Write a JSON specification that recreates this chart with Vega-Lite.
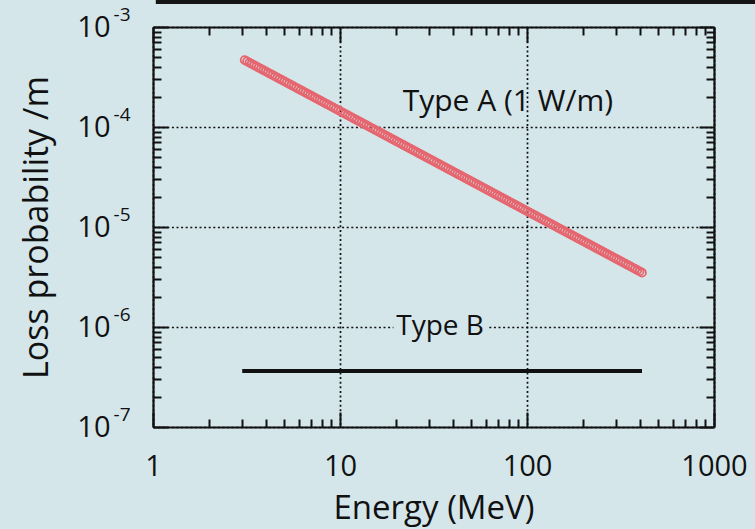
{
  "$schema": "https://vega.github.io/schema/vega-lite/v6.json",
  "autosize": {"type": "none"},
  "width": 561,
  "height": 400,
  "padding": {"left": 153, "top": 27, "right": 41, "bottom": 102},
  "background": "#d4e6ea",
  "config": {
    "view": {"stroke": null},
    "font": "Open Sans",
    "axis": {
      "labelFont": "Open Sans",
      "titleFont": "Open Sans",
      "labelColor": "#111111",
      "titleColor": "#111111",
      "titleFontWeight": "normal",
      "tickColor": "#111111",
      "domainColor": "#111111",
      "labelOverlap": false,
      "labelFlush": false,
      "labelBound": false
    }
  },
  "datasets": {
    "typeA": [
      {"energy": 3.0903, "loss": 4.660e-4}, {"energy": 3.1805, "loss": 4.528e-4},
      {"energy": 3.2734, "loss": 4.399e-4}, {"energy": 3.3690, "loss": 4.274e-4},
      {"energy": 3.4674, "loss": 4.153e-4}, {"energy": 3.5686, "loss": 4.035e-4},
      {"energy": 3.6728, "loss": 3.921e-4}, {"energy": 3.7800, "loss": 3.810e-4},
      {"energy": 3.8905, "loss": 3.701e-4}, {"energy": 4.0041, "loss": 3.596e-4},
      {"energy": 4.1210, "loss": 3.494e-4}, {"energy": 4.2413, "loss": 3.395e-4},
      {"energy": 4.3652, "loss": 3.299e-4}, {"energy": 4.4927, "loss": 3.205e-4},
      {"energy": 4.6238, "loss": 3.114e-4}, {"energy": 4.7588, "loss": 3.026e-4},
      {"energy": 4.8978, "loss": 2.940e-4}, {"energy": 5.0408, "loss": 2.857e-4},
      {"energy": 5.1880, "loss": 2.776e-4}, {"energy": 5.3395, "loss": 2.697e-4},
      {"energy": 5.4954, "loss": 2.620e-4}, {"energy": 5.6559, "loss": 2.546e-4},
      {"energy": 5.8210, "loss": 2.474e-4}, {"energy": 5.9910, "loss": 2.404e-4},
      {"energy": 6.1660, "loss": 2.335e-4}, {"energy": 6.3460, "loss": 2.269e-4},
      {"energy": 6.5313, "loss": 2.205e-4}, {"energy": 6.7220, "loss": 2.142e-4},
      {"energy": 6.9183, "loss": 2.081e-4}, {"energy": 7.1203, "loss": 2.022e-4},
      {"energy": 7.3282, "loss": 1.965e-4}, {"energy": 7.5422, "loss": 1.909e-4},
      {"energy": 7.7625, "loss": 1.855e-4}, {"energy": 7.9892, "loss": 1.802e-4},
      {"energy": 8.2224, "loss": 1.751e-4}, {"energy": 8.4625, "loss": 1.701e-4},
      {"energy": 8.7096, "loss": 1.653e-4}, {"energy": 8.9639, "loss": 1.606e-4},
      {"energy": 9.2257, "loss": 1.561e-4}, {"energy": 9.4951, "loss": 1.517e-4},
      {"energy": 9.7724, "loss": 1.474e-4}, {"energy": 10.058, "loss": 1.432e-4},
      {"energy": 10.351, "loss": 1.391e-4}, {"energy": 10.653, "loss": 1.352e-4},
      {"energy": 10.965, "loss": 1.313e-4}, {"energy": 11.285, "loss": 1.276e-4},
      {"energy": 11.614, "loss": 1.240e-4}, {"energy": 11.953, "loss": 1.205e-4},
      {"energy": 12.303, "loss": 1.170e-4}, {"energy": 12.662, "loss": 1.137e-4},
      {"energy": 13.032, "loss": 1.105e-4}, {"energy": 13.413, "loss": 1.074e-4},
      {"energy": 13.804, "loss": 1.043e-4}, {"energy": 14.207, "loss": 1.013e-4},
      {"energy": 14.622, "loss": 9.848e-5}, {"energy": 15.049, "loss": 9.569e-5},
      {"energy": 15.488, "loss": 9.298e-5}, {"energy": 15.940, "loss": 9.034e-5},
      {"energy": 16.406, "loss": 8.777e-5}, {"energy": 16.885, "loss": 8.528e-5},
      {"energy": 17.378, "loss": 8.286e-5}, {"energy": 17.885, "loss": 8.051e-5},
      {"energy": 18.408, "loss": 7.823e-5}, {"energy": 18.946, "loss": 7.601e-5},
      {"energy": 19.498, "loss": 7.385e-5}, {"energy": 20.067, "loss": 7.175e-5},
      {"energy": 20.654, "loss": 6.972e-5}, {"energy": 21.257, "loss": 6.774e-5},
      {"energy": 21.878, "loss": 6.582e-5}, {"energy": 22.517, "loss": 6.395e-5},
      {"energy": 23.174, "loss": 6.214e-5}, {"energy": 23.851, "loss": 6.038e-5},
      {"energy": 24.547, "loss": 5.866e-5}, {"energy": 25.264, "loss": 5.700e-5},
      {"energy": 26.002, "loss": 5.538e-5}, {"energy": 26.761, "loss": 5.381e-5},
      {"energy": 27.542, "loss": 5.228e-5}, {"energy": 28.346, "loss": 5.080e-5},
      {"energy": 29.174, "loss": 4.936e-5}, {"energy": 30.026, "loss": 4.796e-5},
      {"energy": 30.903, "loss": 4.660e-5}, {"energy": 31.805, "loss": 4.528e-5},
      {"energy": 32.734, "loss": 4.399e-5}, {"energy": 33.690, "loss": 4.274e-5},
      {"energy": 34.674, "loss": 4.153e-5}, {"energy": 35.686, "loss": 4.035e-5},
      {"energy": 36.728, "loss": 3.921e-5}, {"energy": 37.800, "loss": 3.810e-5},
      {"energy": 38.905, "loss": 3.701e-5}, {"energy": 40.041, "loss": 3.596e-5},
      {"energy": 41.210, "loss": 3.494e-5}, {"energy": 42.413, "loss": 3.395e-5},
      {"energy": 43.652, "loss": 3.299e-5}, {"energy": 44.927, "loss": 3.205e-5},
      {"energy": 46.238, "loss": 3.114e-5}, {"energy": 47.588, "loss": 3.026e-5},
      {"energy": 48.978, "loss": 2.940e-5}, {"energy": 50.408, "loss": 2.857e-5},
      {"energy": 51.880, "loss": 2.776e-5}, {"energy": 53.395, "loss": 2.697e-5},
      {"energy": 54.954, "loss": 2.620e-5}, {"energy": 56.559, "loss": 2.546e-5},
      {"energy": 58.210, "loss": 2.474e-5}, {"energy": 59.910, "loss": 2.404e-5},
      {"energy": 61.660, "loss": 2.335e-5}, {"energy": 63.460, "loss": 2.269e-5},
      {"energy": 65.313, "loss": 2.205e-5}, {"energy": 67.220, "loss": 2.142e-5},
      {"energy": 69.183, "loss": 2.081e-5}, {"energy": 71.203, "loss": 2.022e-5},
      {"energy": 73.282, "loss": 1.965e-5}, {"energy": 75.422, "loss": 1.909e-5},
      {"energy": 77.625, "loss": 1.855e-5}, {"energy": 79.892, "loss": 1.802e-5},
      {"energy": 82.224, "loss": 1.751e-5}, {"energy": 84.625, "loss": 1.701e-5},
      {"energy": 87.096, "loss": 1.653e-5}, {"energy": 89.639, "loss": 1.606e-5},
      {"energy": 92.257, "loss": 1.561e-5}, {"energy": 94.951, "loss": 1.517e-5},
      {"energy": 97.724, "loss": 1.474e-5}, {"energy": 100.58, "loss": 1.432e-5},
      {"energy": 103.51, "loss": 1.391e-5}, {"energy": 106.53, "loss": 1.352e-5},
      {"energy": 109.65, "loss": 1.313e-5}, {"energy": 112.85, "loss": 1.276e-5},
      {"energy": 116.14, "loss": 1.240e-5}, {"energy": 119.53, "loss": 1.205e-5},
      {"energy": 123.03, "loss": 1.170e-5}, {"energy": 126.62, "loss": 1.137e-5},
      {"energy": 130.32, "loss": 1.105e-5}, {"energy": 134.13, "loss": 1.074e-5},
      {"energy": 138.04, "loss": 1.043e-5}, {"energy": 142.07, "loss": 1.013e-5},
      {"energy": 146.22, "loss": 9.848e-6}, {"energy": 150.49, "loss": 9.569e-6},
      {"energy": 154.88, "loss": 9.298e-6}, {"energy": 159.40, "loss": 9.034e-6},
      {"energy": 164.06, "loss": 8.777e-6}, {"energy": 168.85, "loss": 8.528e-6},
      {"energy": 173.78, "loss": 8.286e-6}, {"energy": 178.85, "loss": 8.051e-6},
      {"energy": 184.08, "loss": 7.823e-6}, {"energy": 189.46, "loss": 7.601e-6},
      {"energy": 194.98, "loss": 7.385e-6}, {"energy": 200.67, "loss": 7.175e-6},
      {"energy": 206.54, "loss": 6.972e-6}, {"energy": 212.57, "loss": 6.774e-6},
      {"energy": 218.78, "loss": 6.582e-6}, {"energy": 225.17, "loss": 6.395e-6},
      {"energy": 231.74, "loss": 6.214e-6}, {"energy": 238.51, "loss": 6.038e-6},
      {"energy": 245.47, "loss": 5.866e-6}, {"energy": 252.64, "loss": 5.700e-6},
      {"energy": 260.02, "loss": 5.538e-6}, {"energy": 267.61, "loss": 5.381e-6},
      {"energy": 275.42, "loss": 5.228e-6}, {"energy": 283.46, "loss": 5.080e-6},
      {"energy": 291.74, "loss": 4.936e-6}, {"energy": 300.26, "loss": 4.796e-6},
      {"energy": 309.03, "loss": 4.660e-6}, {"energy": 318.05, "loss": 4.528e-6},
      {"energy": 327.34, "loss": 4.399e-6}, {"energy": 336.90, "loss": 4.274e-6},
      {"energy": 346.74, "loss": 4.153e-6}, {"energy": 356.86, "loss": 4.035e-6},
      {"energy": 367.28, "loss": 3.921e-6}, {"energy": 378.00, "loss": 3.810e-6},
      {"energy": 389.05, "loss": 3.701e-6}, {"energy": 400.41, "loss": 3.596e-6},
      {"energy": 412.10, "loss": 3.494e-6}
    ],
    "typeB": [
      {"energy": 3.0, "energy_end": 412, "loss": 3.63e-7}
    ]
  },
  "resolve": {"axis": {"x": "independent", "y": "independent"}},
  "layer": [
    {
      "description": "Type A: loss probability per metre, open circles; carries the major ticks, grid and frame on the bottom and left",
      "data": {"name": "typeA"},
      "mark": {"type": "point", "shape": "circle", "filled": false, "stroke": "#e6666f", "strokeWidth": 1.8, "size": 62, "opacity": 1},
      "encoding": {
        "x": {
          "field": "energy", "type": "quantitative",
          "scale": {"type": "log", "domain": [1, 1000], "nice": false},
          "axis": {
            "orient": "bottom", "values": [1, 10, 100, 1000], "labels": false, "title": null,
            "tickSize": -15, "tickWidth": 2, "domain": true, "domainWidth": 2.2,
            "grid": true, "gridColor": "#111111", "gridOpacity": 1, "gridWidth": 1.7, "gridDash": [2, 2.6]
          }
        },
        "y": {
          "field": "loss", "type": "quantitative",
          "scale": {"type": "log", "domain": [1e-7, 1e-3], "nice": false},
          "axis": {
            "orient": "left", "values": [1e-7, 1e-6, 1e-5, 1e-4, 1e-3], "labels": false, "title": null,
            "tickSize": -15, "tickWidth": 2, "domain": true, "domainWidth": 2.2,
            "grid": true, "gridColor": "#111111", "gridOpacity": 1, "gridWidth": 1.7, "gridDash": [2, 2.6]
          }
        }
      }
    },
    {
      "description": "Type B: constant loss level; carries the minor ticks on the bottom and left",
      "data": {"name": "typeB"},
      "mark": {"type": "rule", "color": "#111111", "strokeWidth": 4},
      "encoding": {
        "x": {
          "field": "energy", "type": "quantitative",
          "scale": {"type": "log", "domain": [1, 1000], "nice": false},
          "axis": {
            "orient": "bottom", "labels": false, "title": null, "domain": false, "grid": false,
            "values": [2, 3, 4, 5, 6, 7, 8, 9, 20, 30, 40, 50, 60, 70, 80, 90, 200, 300, 400, 500, 600, 700, 800, 900],
            "tickSize": -8, "tickWidth": 2
          }
        },
        "x2": {"field": "energy_end"},
        "y": {
          "field": "loss", "type": "quantitative",
          "scale": {"type": "log", "domain": [1e-7, 1e-3], "nice": false},
          "axis": {
            "orient": "left", "labels": false, "title": null, "domain": false, "grid": false,
            "values": [2e-7, 3e-7, 4e-7, 5e-7, 6e-7, 7e-7, 8e-7, 9e-7, 2e-6, 3e-6, 4e-6, 5e-6, 6e-6, 7e-6, 8e-6, 9e-6, 2e-5, 3e-5, 4e-5, 5e-5, 6e-5, 7e-5, 8e-5, 9e-5, 2e-4, 3e-4, 4e-4, 5e-4, 6e-4, 7e-4, 8e-4, 9e-4],
            "tickSize": -8, "tickWidth": 2
          }
        }
      }
    },
    {
      "description": "Clear band behind the Type B caption so the dotted grid line breaks around it; carries the major ticks and frame on the top and right",
      "data": {"values": [{}]},
      "mark": {"type": "rect", "fill": "#d4e6ea"},
      "encoding": {
        "x": {
          "datum": 19.3, "type": "quantitative",
          "scale": {"type": "log", "domain": [1, 1000], "nice": false},
          "axis": {
            "orient": "top", "values": [1, 10, 100, 1000], "labels": false, "title": null,
            "tickSize": -15, "tickWidth": 2, "domain": true, "domainWidth": 2.2, "grid": false
          }
        },
        "x2": {"datum": 62},
        "y": {
          "datum": 8.8e-7, "type": "quantitative",
          "scale": {"type": "log", "domain": [1e-7, 1e-3], "nice": false},
          "axis": {
            "orient": "right", "values": [1e-7, 1e-6, 1e-5, 1e-4, 1e-3], "labels": false, "title": null,
            "tickSize": -15, "tickWidth": 2, "domain": true, "domainWidth": 2.2, "grid": false
          }
        },
        "y2": {"datum": 1.14e-6}
      }
    },
    {
      "description": "Type A caption; carries the minor ticks on the top and right",
      "data": {"values": [{"label": "Type A (1 W/m)"}]},
      "mark": {"type": "text", "font": "Open Sans", "fontSize": 30, "color": "#111111", "align": "center", "baseline": "middle"},
      "encoding": {
        "text": {"field": "label"},
        "x": {
          "datum": 79, "type": "quantitative",
          "scale": {"type": "log", "domain": [1, 1000], "nice": false},
          "axis": {
            "orient": "top", "labels": false, "title": null, "domain": false, "grid": false,
            "values": [2, 3, 4, 5, 6, 7, 8, 9, 20, 30, 40, 50, 60, 70, 80, 90, 200, 300, 400, 500, 600, 700, 800, 900],
            "tickSize": -8, "tickWidth": 2
          }
        },
        "y": {
          "datum": 1.78e-4, "type": "quantitative",
          "scale": {"type": "log", "domain": [1e-7, 1e-3], "nice": false},
          "axis": {
            "orient": "right", "labels": false, "title": null, "domain": false, "grid": false,
            "values": [2e-7, 3e-7, 4e-7, 5e-7, 6e-7, 7e-7, 8e-7, 9e-7, 2e-6, 3e-6, 4e-6, 5e-6, 6e-6, 7e-6, 8e-6, 9e-6, 2e-5, 3e-5, 4e-5, 5e-5, 6e-5, 7e-5, 8e-5, 9e-5, 2e-4, 3e-4, 4e-4, 5e-4, 6e-4, 7e-4, 8e-4, 9e-4],
            "tickSize": -8, "tickWidth": 2
          }
        }
      }
    },
    {
      "description": "Type B caption; carries the tick labels and axis titles",
      "data": {"values": [{"label": "Type B"}]},
      "mark": {"type": "text", "font": "Open Sans", "fontSize": 28, "color": "#111111", "align": "center", "baseline": "middle"},
      "encoding": {
        "text": {"field": "label"},
        "x": {
          "datum": 34.3, "type": "quantitative",
          "scale": {"type": "log", "domain": [1, 1000], "nice": false},
          "axis": {
            "orient": "bottom", "values": [1, 10, 100, 1000], "format": "d",
            "ticks": false, "tickSize": 0, "domain": false, "grid": false,
            "labelFontSize": 29, "labelPadding": 39, "labelBaseline": "middle", "labelAlign": "center",
            "title": "Energy (MeV)", "titleFontSize": 33, "titlePadding": 11
          }
        },
        "y": {
          "datum": 1e-6, "type": "quantitative",
          "scale": {"type": "log", "domain": [1e-7, 1e-3], "nice": false},
          "axis": {
            "orient": "left", "values": [1e-7, 1e-6, 1e-5, 1e-4, 1e-3],
            "labelExpr": "'10'",
            "ticks": false, "tickSize": 0, "domain": false, "grid": false,
            "labelFontSize": 29, "labelPadding": 43, "labelBaseline": "middle", "labelAlign": "right",
            "title": "Loss probability /m", "titleFontSize": 34, "titlePadding": 22
          }
        }
      }
    },
    {
      "description": "Frame edge of the panel above; carries the decade exponents",
      "data": {"values": [{}]},
      "mark": {"type": "rule", "color": "#151515", "strokeWidth": 5, "strokeCap": "butt"},
      "encoding": {
        "x": {
          "datum": 1.035, "type": "quantitative",
          "scale": {"type": "log", "domain": [1, 1000], "nice": false},
          "axis": null
        },
        "x2": {"datum": 2200},
        "y": {
          "datum": 1.8e-3, "type": "quantitative",
          "scale": {"type": "log", "domain": [1e-7, 1e-3], "nice": false},
          "axis": {
            "orient": "left", "values": [1e-7, 1e-6, 1e-5, 1e-4, 1e-3],
            "labelExpr": "'' + round(log(datum.value) / LN10)",
            "ticks": false, "tickSize": 0, "domain": false, "grid": false,
            "labelFontSize": 19, "labelPadding": 23, "labelBaseline": "middle", "labelAlign": "right", "labelOffset": -13,
            "title": null
          }
        }
      }
    }
  ]
}
